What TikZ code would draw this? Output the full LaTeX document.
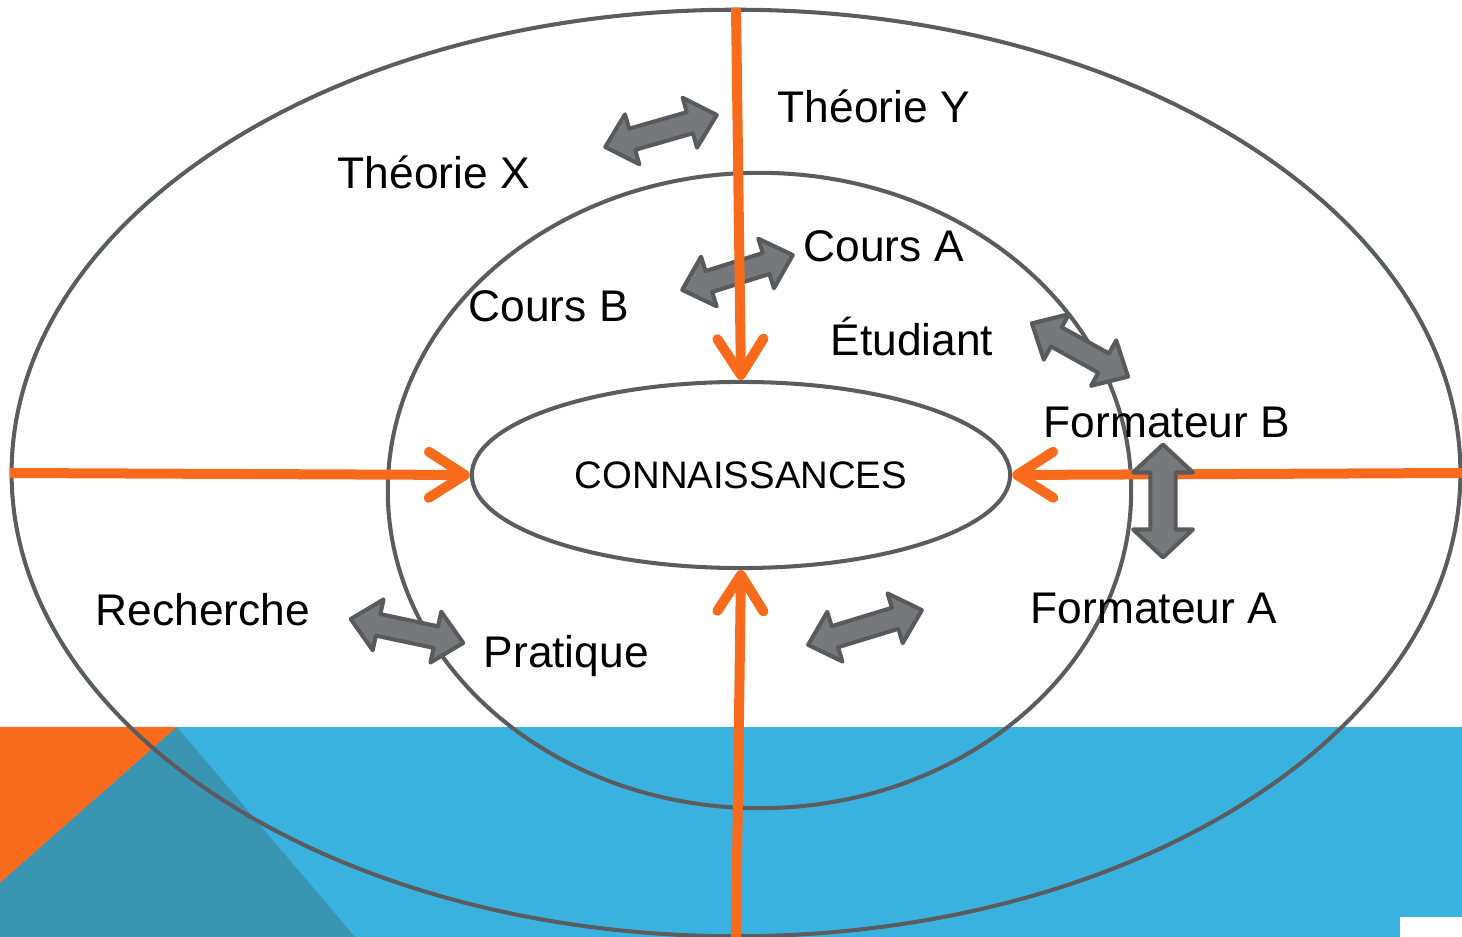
\documentclass[tikz,border=0pt]{standalone}
\usepackage{fontspec}
\setmainfont{Liberation Sans}
\usepackage{tikz}
\usetikzlibrary{arrows.meta, positioning, shapes.geometric}
\usepackage{xcolor}

\definecolor{ringgray}{HTML}{5B5C5F}
\definecolor{flowor}{HTML}{F96B1C}
\definecolor{swapfill}{HTML}{77787C}
\definecolor{swapedge}{HTML}{595A5C}
\definecolor{bandblue}{HTML}{3AB2E0}
\definecolor{bandteal}{HTML}{3A95B3}

\tikzset{
  ring/.style={draw=ringgray, line width=1.15pt, ellipse, inner sep=0pt},
  lbl/.style={font=\fontsize{12.6}{15}\selectfont, inner sep=0pt, anchor=base west},
  flow/.style={draw=flowor, line width=1mm, line cap=butt,
    -{Straight Barb[length=3.6mm, width=4.6mm, round]}},
  swapstyle/.style={fill=swapfill, draw=swapedge, line width=1.15pt, line join=round},
  pics/swap/.style={code={
    \draw[swapstyle] (-#1/2,0) -- ++(28,26) -- ++(0,-15) -- (#1/2-28,11) -- ++(0,15)
      -- (#1/2,0) -- ++(-28,-26) -- ++(0,15) -- (-#1/2+28,-11) -- ++(0,-15) -- cycle;
  }},
}

\begin{document}
\begin{tikzpicture}[x=0.01cm, y=-0.01cm]
\useasboundingbox (0,0) rectangle (1462,937);

% Band at the bottom
\fill[bandblue] (0,727) rectangle (1462,937);
\fill[flowor] (0,727) -- (177,727) -- (0,883) -- cycle;
\fill[bandteal] (177,727) -- (355,937) -- (0,937) -- (0,883) -- cycle;
\fill[white] (1400,917) rectangle (1462,937);

% Rings
\node[ring, minimum width=14.48cm, minimum height=9.26cm] (outer) at (736,473) {};
\node[ring, minimum width=7.43cm, minimum height=6.35cm] (mid) at (759.5,490.5) {};
\node[ring, minimum width=5.38cm, minimum height=1.86cm,
  font=\fontsize{10.9}{13}\selectfont] (conn) at (741,475) {CONNAISSANCES};

% Exchange between the courses, under the flow
\pic[rotate=17.5] at (737.5,272.5) {swap=116};

% Flows into the centre
\draw[flow] (outer.north) -- (conn.north);
\draw[flow] (outer.south) -- (conn.south);
\draw[flow] (outer.west) -- (conn.west);
\draw[flow] (outer.east) -- (conn.east);

% Other exchanges
\pic[rotate=16] at (661,131) {swap=116};
\pic[rotate=-29] at (1080,350) {swap=110};
\pic[rotate=90, yscale=1.15] at (1163,501) {swap=113};
\pic[rotate=-12] at (407,631) {swap=115};
\pic[rotate=17] at (865,627.5) {swap=119};

% Labels
\node[lbl] (thy) at (777,123) {Théorie Y};
\node[lbl] (thx) at (337,189) {Théorie X};
\node[lbl] (ca) at (803,262) {Cours A};
\node[lbl] (cb) at (468,322) {Cours B};
\node[lbl] (etu) at (830,356) {Étudiant};
\node[lbl] (fb) at (1043,438) {Formateur B};
\node[lbl] (rech) at (95,626) {Recherche};
\node[lbl] (prat) at (483,668) {Pratique};
\node[lbl] (fa) at (1030,624) {Formateur A};
\end{tikzpicture}
\end{document}
